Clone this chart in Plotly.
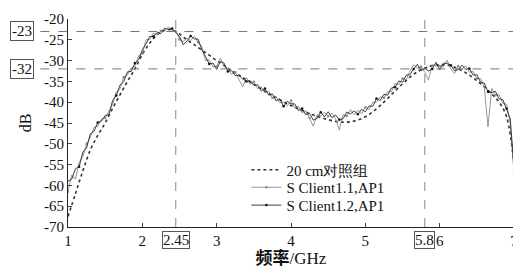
import numpy as np
import plotly.graph_objects as go

# Frequency grids (GHz)
freq_fine = np.round(np.linspace(1.0, 7.0, 121), 3)
freq_ref = np.round(np.linspace(1.0, 7.0, 61), 3)

# 20 cm reference group (dotted)
ref_20cm = [-67.5, -62, -56.5, -51.5, -48, -45, -41.5, -38.2, -35, -32, -28.5,
            -25.8, -23.8, -22.7, -22.6, -23.6, -25, -26.2, -27.5, -28.7, -30,
            -31.2, -32.4, -33.5, -34.6, -35.7, -36.8, -37.9, -38.9, -39.9, -40.8,
            -41.6, -42.4, -43.1, -43.7, -44.2, -44.6, -44.8, -44.7, -44.3, -43.5,
            -42.3, -40.8, -39.1, -37.3, -35.6, -34, -32.7, -31.8, -31.2, -31,
            -31.1, -31.6, -32.4, -33.5, -34.8, -36.3, -38, -40, -43.5, -55]

# S Client1.1, AP1 (grey)
client11 = [-61.5, -57.5, -58.5, -54.5, -53, -50, -48.5, -46, -45.8, -44, -43.8, -42,
            -40.5, -37.5, -36.8, -34, -33.4, -31.8, -31.4, -28.8, -28.3, -25, -24.9,
            -23.4, -23.9, -22.8, -22.9, -21.9, -22.8, -22.7, -24.9, -25.4, -24.6, -25.2,
            -24.1, -25.6, -26.6, -30, -29.8, -31.5, -31.4, -29.4, -31.5, -31.8, -33.3,
            -32.8, -34.5, -36.3, -34.1, -35.7, -35.1, -36.7, -36.3, -37.8, -37.3, -39,
            -38.7, -40.1, -40, -40.9, -39.6, -41.3, -41, -42.6, -42, -43.8, -45.8, -43,
            -43.3, -42.4, -43.4, -42.6, -44, -46.7, -43, -43.3, -41.8, -43, -41.9, -42.8,
            -41.2, -41.8, -40, -40, -38.7, -39, -37.4, -37.5, -35.5, -35.8, -34.3, -34.6,
            -32.5, -31, -31.8, -31.5, -32.8, -34.7, -31, -31.3, -31.3, -31.5, -29.9, -32,
            -33.1, -31.3, -32, -31.2, -32.8, -32.6, -34.3, -34.3, -36.3, -45.9, -36.7,
            -38.3, -38.2, -40.3, -40.5, -45, -57]

# S Client1.2, AP1 (black)
client12 = [-59, -58.5, -56, -55.5, -52, -51, -47.6, -47, -44.9, -44.6, -43.2, -43,
            -39.6, -38.4, -35.9, -35, -32.7, -32.6, -30.6, -29.8, -27.4, -26, -24.2,
            -24.2, -23.2, -23.5, -22.2, -22.5, -22.3, -23.3, -24.2, -26.2, -25.3, -24.1,
            -24.8, -24.8, -27.4, -29, -30.8, -30.6, -32.1, -30.2, -30.6, -32.6, -32.4,
            -33.6, -33.6, -34.4, -35, -34.8, -35.9, -35.8, -37.3, -36.7, -38.3, -38,
            -39.7, -39.2, -41, -39.8, -40.4, -40.4, -42, -41.5, -43, -42.7, -44.3, -43.9,
            -42.4, -43.5, -42.3, -43.7, -43.1, -44.2, -44, -42.4, -42.8, -42.1, -42.9,
            -41.7, -42.3, -40.9, -41, -39.1, -39.6, -38.1, -38.3, -36.6, -36.4, -34.9,
            -35.2, -33.5, -33.4, -32, -30.9, -32.4, -31.9, -32.5, -32, -30.4, -32.2,
            -30.6, -30.7, -31.1, -32.4, -32.2, -31.1, -32.1, -31.9, -33.5, -33.4, -35.2,
            -35.4, -37.5, -37.7, -37.4, -39.2, -39.4, -41.5, -44, -56]

x_ticks = [1, 2, 3, 4, 5, 6, 7]
y_ticks = [-70, -65, -60, -55, -50, -45, -40, -35, -30, -25, -20]
y_ticktext = ["-70", "-65", "-60", "-55", "-50", "-45", "-40", "-35", "-30", "-25", "-20"]
h_marks = [-23, -32]
h_labels = ["-23", "-32"]
v_marks = [2.45, 5.8]
v_labels = ["2.45", "5.8"]

serif = "Liberation Serif, DejaVu Serif, serif"

fig = go.Figure()
fig.add_trace(go.Scatter(x=freq_ref, y=ref_20cm, mode="lines", name="20 cm对照组", legend="legend",
                         line=dict(color="#333333", width=1.6, dash="dot", shape="spline")))
fig.add_trace(go.Scatter(x=freq_fine, y=client11, mode="lines+markers", name="S Client1.1,AP1",
                         legend="legend2",
                         line=dict(color="#8a8a8a", width=0.9),
                         marker=dict(size=2.5, color="#8a8a8a", maxdisplayed=30)))
fig.add_trace(go.Scatter(x=freq_fine, y=client12, mode="lines+markers", name="S Client1.2,AP1",
                         legend="legend3",
                         line=dict(color="#2a2a2a", width=0.9),
                         marker=dict(size=2.5, color="#111111", maxdisplayed=30)))

# guide lines
for hv in h_marks:
    fig.add_shape(type="line", xref="paper", yref="y", x0=-0.062, x1=1.0, y0=hv, y1=hv,
                  line=dict(color="#777777", width=1, dash="dash"))
for vv in v_marks:
    fig.add_shape(type="line", xref="x", yref="paper", x0=vv, x1=vv, y0=0, y1=1.005,
                  line=dict(color="#888888", width=1, dash="dash"))

# boxed labels
for hv, lab in zip(h_marks, h_labels):
    fig.add_annotation(xref="paper", yref="y", x=-0.103, y=hv, text=lab,
                       showarrow=False, font=dict(family=serif, size=15, color="#111"),
                       bordercolor="#555", borderwidth=1, borderpad=1, xanchor="center", yanchor="middle")
for vv, lab in zip(v_marks, v_labels):
    fig.add_annotation(xref="x", yref="paper", x=vv, y=-0.02, text=lab,
                       showarrow=False, font=dict(family=serif, size=15, color="#111"),
                       bordercolor="#555", borderwidth=1, borderpad=0, xanchor="center", yanchor="top")

leg_common = dict(x=0.40, xanchor="left", yanchor="middle", bgcolor="rgba(0,0,0,0)",
                  font=dict(family=serif, size=15, color="#111"), itemwidth=30)

fig.update_layout(
    width=513, height=261,
    margin=dict(l=60, r=7, t=11, b=42),
    paper_bgcolor="white", plot_bgcolor="white",
    font=dict(family=serif, size=15, color="#111"),
    showlegend=True,
    legend=dict(y=0.274, **leg_common),
    legend2=dict(y=0.19, **leg_common),
    legend3=dict(y=0.104, **leg_common),
    xaxis=dict(range=[1, 7], tickmode="linear", tick0=1, dtick=1, ticks="inside", ticklen=4,
               automargin=False, ticklabeloverflow="allow",
               showline=True, linecolor="#222", linewidth=1, showgrid=False, zeroline=False,
               tickfont=dict(family=serif, size=15),
               title=dict(text="<b><span style='font-family:Noto Sans CJK SC'>频率</span></b>/GHz",
                          font=dict(family=serif, size=17), standoff=2)),
    yaxis=dict(range=[-70, -20], tickvals=y_ticks, ticktext=y_ticktext, ticks="inside", ticklen=4,
               automargin=False,
               showline=True, linecolor="#222", linewidth=1, showgrid=False, zeroline=False,
               tickfont=dict(family=serif, size=15),
               title=dict(text="dB", font=dict(family=serif, size=16), standoff=8)),
)

fig.write_html("out.html")
